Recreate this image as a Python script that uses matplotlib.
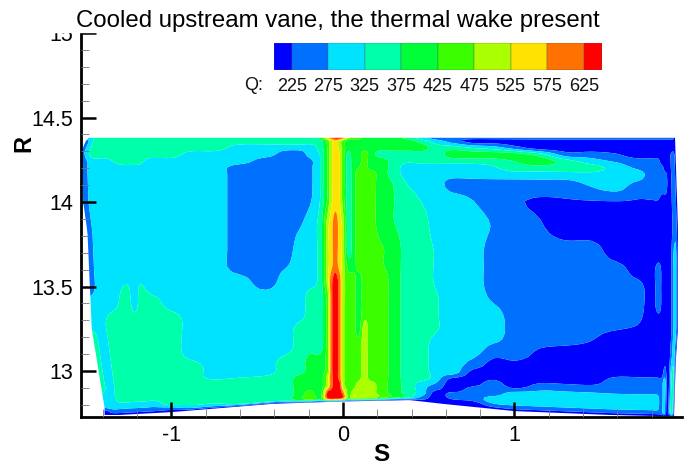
import numpy as np
import matplotlib
matplotlib.use('Agg')
import matplotlib.pyplot as plt
from matplotlib.patches import Rectangle
from matplotlib.ticker import MultipleLocator

plt.rcParams['font.family'] = ['Liberation Sans', 'DejaVu Sans']

# contour levels and band colours, same as the legend
levels = [0, 225, 275, 325, 375, 425, 475, 525, 575, 625, 900]
band_colors = ['#0000ff', '#0071ff', '#00e3ff', '#00ffaa', '#00ff38',
               '#39ff00', '#aaff00', '#ffe300', '#ff7100', '#ff0000']
legend_edges = [200, 225, 275, 325, 375, 425, 475, 525, 575, 625, 650]
legend_ticks = [225, 275, 325, 375, 425, 475, 525, 575, 625]

# Q values, short names for the middle of each band
b, m, c, s, g, l, y, w, o, r = 200, 250, 300, 350, 400, 450, 500, 550, 600, 650

S_nodes = [-1.50, -1.44, -1.38, -1.27, -1.23, -1.19, -1.12, -1.00, -0.88, -0.75,
           -0.60, -0.45, -0.33, -0.25, -0.19, -0.13,
           -0.09, -0.07, -0.045, -0.02, 0.00, 0.03, 0.06, 0.09, 0.125, 0.16, 0.22,
           0.30, 0.38, 0.46, 0.54, 0.64, 0.76, 0.88,
           1.00, 1.15, 1.30, 1.45, 1.60, 1.72,
           1.80, 1.84, 1.865, 1.885, 1.905, 1.935, 1.95]
R_nodes = [12.75, 12.77, 12.80, 12.85, 12.90, 12.95, 13.00, 13.10, 13.20, 13.30, 13.40, 13.50,
           13.60, 13.70, 13.85, 14.00, 14.10, 14.16, 14.20, 14.24, 14.28, 14.32, 14.36, 14.38]

Q_rows = [
 [b,b,b,b,b,b,b,b,b,b, b,b,b,b,b,b, b,b,b,b,b,b,b,b,b,b,b, b,b,b,b,b,b,b, b,b,b,b,b,b, b,b,b,b,b,b,b],
 [b,m,m,m,m,m,m,m,c,c, s,s,s,g,l,g, o,r,r,r,o,l,y,y,y,y,l, g,s,m,b,b,b,m, m,m,m,m,m,m, m,m,m,c,b,s,b],
 [c,c,c,c,c,c,c,s,s,s, s,s,s,g,l,g, r,r,r,r,o,l,y,y,y,y,l, g,s,c,b,m,m,c, c,c,c,c,c,c, c,c,m,c,b,s,b],
 [c,c,s,s,s,s,s,s,s,s, s,s,s,g,g,g, y,o,r,r,y,l,l,y,y,y,l, g,s,c,m,b,m,m, c,c,c,c,c,c, c,c,m,c,b,s,b],
 [s,c,s,s,s,s,s,s,s,s, s,s,s,g,g,g, y,o,r,o,y,l,l,l,y,l,l, g,s,s,c,b,b,m, b,m,m,m,m,m, m,m,m,c,b,s,b],
 [s,c,s,s,s,s,s,s,s,c, c,c,s,s,g,g, l,o,r,o,y,l,l,l,y,l,l, g,s,s,c,c,b,b, b,b,b,b,m,m, m,m,m,c,b,s,b],
 [s,c,s,s,s,s,s,s,s,c, c,c,s,s,g,g, l,o,r,o,y,l,l,l,y,l,l, g,s,s,c,c,m,b, b,b,b,b,b,b, b,b,b,m,b,s,b],
 [s,c,s,s,s,s,s,s,c,c, c,c,c,s,s,s, l,o,r,o,y,l,l,l,y,l,l, g,s,s,c,c,c,m, m,215,b,b,b,b, b,b,b,b,b,c,b],
 [s,c,s,s,s,s,s,s,c,c, c,c,c,s,s,s, l,o,r,o,y,l,l,g,y,l,l, g,s,s,330,c,c,c, m,m,m,230,b,b, b,b,b,b,b,c,b],
 [c,c,s,s,s,s,s,s,c,c, c,c,c,c,s,s, l,o,r,o,y,l,l,g,l,l,l, g,s,s,330,c,c,c, m,m,m,m,m,230, b,b,b,b,b,c,b],
 [c,c,c,s,c,s,s,c,c,c, c,c,c,c,s,s, l,o,r,o,y,l,l,g,l,l,l, g,s,s,330,c,c,270, m,m,m,m,m,m, b,m,b,b,b,c,b],
 [m,c,c,330,c,330,c,c,c,c, c,m,c,c,c,s, y,o,r,o,y,l,l,g,l,l,l, g,s,s,320,c,c,m, m,m,m,m,m,m, b,m,b,b,b,c,b],
 [m,c,c,c,c,c,c,c,c,c, m,m,270,c,c,s, y,w,o,w,y,g,g,l,l,l,430, g,s,s,320,c,c,m, m,m,m,m,m,b, b,m,b,b,b,c,b],
 [m,c,c,c,c,c,c,c,c,c, m,m,m,c,c,s, y,w,o,w,y,s,g,l,l,l,430, g,s,s,320,c,c,m, m,m,m,m,b,b, b,b,b,b,b,c,b],
 [m,c,c,c,c,c,c,c,c,c, m,m,m,270,c,s, y,w,o,w,y,s,g,l,l,l,g, 375,s,s,c,c,c,270, m,230,b,b,b,b, b,b,b,b,b,m,b],
 [m,c,c,c,c,c,c,c,c,c, m,m,m,m,270,330, 430,510,w,530,l,s,g,l,l,l,g, 375,s,320,c,c,275,m, 230,220,220,220,220,220, 220,220,b,b,b,m,b],
 [m,c,c,c,c,c,c,c,c,c, m,m,m,m,265,330, 430,510,w,530,l,s,g,l,l,l,g, 370,320,c,c,m,m,m, m,m,m,280,c,m, m,m,m,m,b,m,b],
 [m,c,c,c,c,c,c,c,c,c, m,m,m,m,265,330, 430,510,w,530,l,s,g,l,l,l,g, s,c,c,c,c,c,c, c,c,c,c,c,c, m,m,m,m,b,m,b],
 [m,c,c,c,c,c,c,c,c,c, m,m,m,m,265,330, 430,510,w,530,l,s,g,420,l,g,g, s,c,c,c,c,c,320, s,s,s,s,c,270, m,m,m,b,b,m,b],
 [m,c,c,s,s,s,c,c,c,c, c,m,m,m,265,330, 430,510,w,530,l,s,g,g,l,g,g, s,340,s,s,s,s,s, 375,g,s,c,270,m, m,m,b,b,b,m,b],
 [m,s,s,s,s,s,s,s,c,c, c,c,m,m,c,330, 430,510,w,530,l,360,g,g,l,g,s, s,s,s,s,g,g,g, g,s,m,m,230,b, b,b,b,b,b,m,b],
 [m,s,s,s,s,s,s,s,s,s, c,c,c,c,c,s, 430,510,w,510,l,g,g,g,g,g,g, g,g,g,s,s,320,c, m,b,b,b,b,b, b,b,b,b,b,b,b],
 [m,s,s,s,s,s,s,s,s,s, s,s,s,s,s,s, l,510,w,510,l,g,g,g,g,g,g, g,g,s,c,m,b,b, b,b,b,b,b,b, b,b,b,b,b,b,b],
 [c,s,s,s,s,s,s,s,s,s, s,s,s,s,s,g, w,o,r,r,o,y,l,l,g,g,g, g,s,c,m,m,m,m, m,m,m,m,m,m, m,m,m,m,m,m,b],
]

# passage walls
hub_s = [-1.55, -1.39, -1.00, -0.41, 0.00, 0.39, 0.58, 1.00, 1.56, 2.00]
hub_r = [12.74, 12.74, 12.757, 12.806, 12.82, 12.828, 12.806, 12.763, 12.74, 12.73]
left_r = [12.73, 12.78, 13.25, 13.82, 14.00, 14.30, 14.36, 14.39]
left_s = [-1.39, -1.39, -1.465, -1.49, -1.515, -1.525, -1.50, -1.475]
right_r = [12.73, 13.05, 13.25, 13.85, 14.38]
right_s = [1.93, 1.94, 1.953, 1.953, 1.936]
tip_r = 14.38


def refine(a, n=4):
    # catmull-rom through the nodes along axis 0, rounds off the contour corners
    a = np.asarray(a, dtype=float)
    pad = np.concatenate([a[:1], a, a[-1:]], axis=0)
    out = []
    for i in range(a.shape[0] - 1):
        p0, p1, p2, p3 = pad[i], pad[i + 1], pad[i + 2], pad[i + 3]
        for t in np.arange(n) / n:
            out.append(p1 + 0.5 * t * (p2 - p0 + t * (2 * p0 - 5 * p1 + 4 * p2 - p3 + t * (3 * p1 - p0 - 3 * p2 + p3))))
    out.append(a[-1])
    return np.array(out)


Q = refine(refine(np.array(Q_rows, dtype=float)).T).T
S_fine = np.interp(np.linspace(0, len(S_nodes) - 1, 4 * (len(S_nodes) - 1) + 1), np.arange(len(S_nodes)), S_nodes)
R_fine = np.interp(np.linspace(0, len(R_nodes) - 1, 4 * (len(R_nodes) - 1) + 1), np.arange(len(R_nodes)), R_nodes)
SS, RR = np.meshgrid(S_fine, R_fine)
hub = np.interp(S_fine, hub_s, hub_r)
RM = tip_r - (tip_r - RR) * (tip_r - hub) / (tip_r - 12.75)
SM = SS + (np.interp(RM, left_r, left_s) + 1.50) * np.clip(1 - (SS + 1.50) / 0.5, 0, 1)
SM = SM + (np.interp(RM, right_r, right_s) - 1.95) * np.clip(1 - (1.95 - SS) / 0.2, 0, 1)

W, H = 686, 465
fig = plt.figure(figsize=(W / 100, H / 100), dpi=100)
ax = fig.add_axes([80.5 / W, 1 - 417 / H, (682 - 80.5) / W, (417 - 33) / H])
ax.contourf(SM, RM, Q, levels=levels, colors=band_colors, antialiased=True)
ax.set_xlim(-1.5306, 1.9767)
ax.set_ylim(12.728, 15.0)

ax.spines['top'].set_visible(False)
ax.spines['right'].set_visible(False)
ax.spines['left'].set_linewidth(2.0)
ax.spines['bottom'].set_linewidth(2.0)
ax.xaxis.set_major_locator(MultipleLocator(1))
ax.xaxis.set_minor_locator(MultipleLocator(0.2))
ax.yaxis.set_major_locator(MultipleLocator(0.5))
ax.yaxis.set_minor_locator(MultipleLocator(0.1))
ax.tick_params(which='major', direction='in', length=10.5, width=1.8, color='k', labelsize=15.5, pad=5.5)
ax.tick_params(which='minor', direction='in', length=5.5, width=0.6, color='#777777')
ax.set_xticks([-1, 0, 1])
ax.set_yticks([13, 13.5, 14, 14.5, 15])
ax.set_yticklabels(['13', '13.5', '14', '14.5', '15'])
ax.set_xticklabels(['-1', '0', '1'])
ax.set_axisbelow(False)

fig.text(381 / W, 1 - 454.5 / H, 'S', fontsize=17.5, fontweight='bold', ha='center', va='center')
fig.text(24 / W, 1 - 143 / H, 'R', fontsize=17, fontweight='bold', rotation=90, ha='center', va='center')

# legend
cax = fig.add_axes([273.5 / W, 1 - 70 / H, (602 - 273.5) / W, 27 / H])
for k in range(len(band_colors)):
    cax.bar(legend_edges[k], 1, width=legend_edges[k + 1] - legend_edges[k], align='edge',
            color=band_colors[k], edgecolor='#555555', linewidth=0.25)
cax.set_xlim(legend_edges[0], legend_edges[-1])
cax.set_ylim(0, 1)
cax.set_yticks([])
cax.set_xticks(legend_ticks)
cax.set_xticklabels([str(v) for v in legend_ticks])
cax.tick_params(axis='x', length=0, labelsize=13, pad=5.5, labelcolor='#111111')
for sp in cax.spines.values():
    sp.set_visible(False)
fig.text(254 / W, 1 - 85 / H, 'Q:', fontsize=13, ha='center', va='center', color='#111111')

# the title sits on a white strip that hides the top of the 15 label
fig.add_artist(Rectangle((0, 1 - 32 / H), 1, 32 / H, transform=fig.transFigure, color='white', zorder=10))
fig.text(76 / W, 1 - 20.5 / H, 'Cooled upstream vane, the thermal wake present',
         fontsize=17.3, ha='left', va='center', zorder=11)

fig.savefig('out.png', dpi=100)
